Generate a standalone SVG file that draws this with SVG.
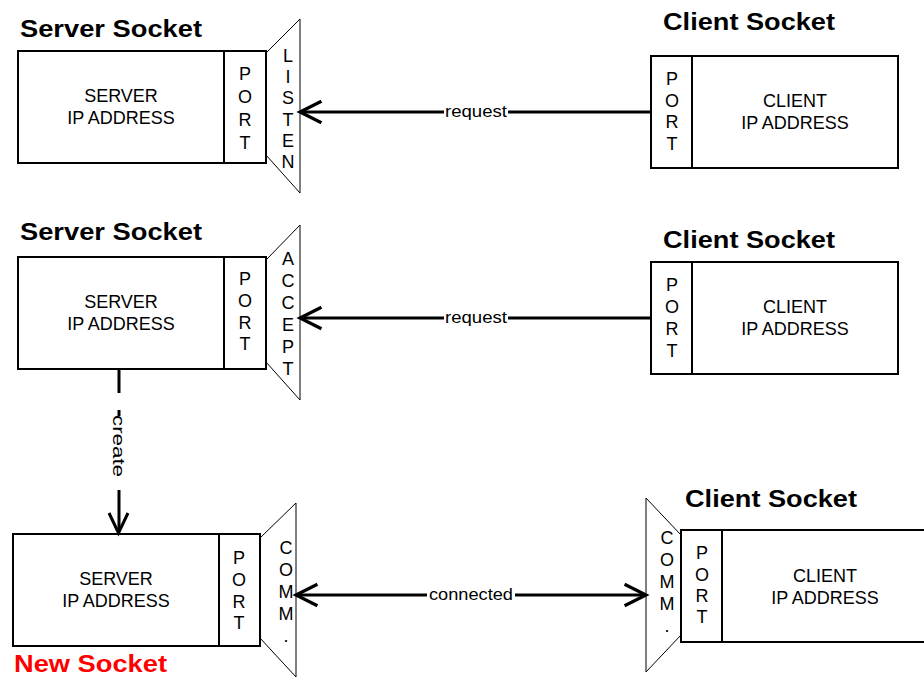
<svg xmlns="http://www.w3.org/2000/svg" width="924" height="677" viewBox="0 0 924 677">
  <style>
    text { font-family: "Liberation Sans", Arial, sans-serif; fill: #000; }
    .title { font-size: 24px; font-weight: bold; }
    .red { fill: #ff0000; }
    .body { font-size: 18px; text-anchor: middle; }
    .lbl { font-size: 17px; text-anchor: middle; }
    .box { fill: #fff; stroke: #000; stroke-width: 2; }
    .cone { fill: #fff; stroke: #000; stroke-width: 1; }
    .wire { fill: none; stroke: #000; stroke-width: 3; }
    .head { fill: none; stroke: #000; stroke-width: 3; stroke-linejoin: miter; }
  </style>
  <defs>
    <marker id="arrow" markerUnits="userSpaceOnUse" markerWidth="30" markerHeight="30" refX="0" refY="0" viewBox="-24 -14 28 28" orient="auto-start-reverse" overflow="visible">
      <path d="M-20,-10 L0,0 L-20,10" class="head"/>
    </marker>
  </defs>

  <rect width="924" height="677" fill="#fff"/>

  <!-- Row 1: listening server socket -->
  <g id="server-listen">
    <text class="title" x="20" y="37" textLength="182" lengthAdjust="spacingAndGlyphs">Server Socket</text>
    <polygon class="cone" points="266,53 300,19 300,193 266,155"/>
    <rect class="box" x="18" y="51" width="206" height="112"/>
    <rect class="box" x="224" y="51" width="42" height="112"/>
    <text class="body" x="121" y="102">SERVER</text>
    <text class="body" x="121" y="124">IP ADDRESS</text>
    <text class="body" x="245" y="80">P</text>
    <text class="body" x="245" y="103">O</text>
    <text class="body" x="245" y="126">R</text>
    <text class="body" x="245" y="149">T</text>
    <text class="body" x="288" y="62">L</text>
    <text class="body" x="288" y="83">I</text>
    <text class="body" x="288" y="104">S</text>
    <text class="body" x="288" y="126">T</text>
    <text class="body" x="288" y="147">E</text>
    <text class="body" x="288" y="168">N</text>
  </g>

  <g id="client-1">
    <text class="title" x="663" y="30" textLength="172" lengthAdjust="spacingAndGlyphs">Client Socket</text>
    <rect class="box" x="651" y="56" width="247" height="112"/>
    <line x1="692" y1="56" x2="692" y2="168" stroke="#000" stroke-width="2"/>
    <text class="body" x="795" y="107">CLIENT</text>
    <text class="body" x="795" y="129">IP ADDRESS</text>
    <text class="body" x="672" y="85">P</text>
    <text class="body" x="672" y="107">O</text>
    <text class="body" x="672" y="128">R</text>
    <text class="body" x="672" y="150">T</text>
  </g>

  <!-- Row 2: accepting server socket -->
  <g id="server-accept">
    <text class="title" x="20" y="240" textLength="182" lengthAdjust="spacingAndGlyphs">Server Socket</text>
    <polygon class="cone" points="266,260 300,225 300,400 266,362"/>
    <rect class="box" x="18" y="257" width="206" height="112"/>
    <rect class="box" x="224" y="257" width="42" height="112"/>
    <text class="body" x="121" y="308">SERVER</text>
    <text class="body" x="121" y="330">IP ADDRESS</text>
    <text class="body" x="245" y="285">P</text>
    <text class="body" x="245" y="307">O</text>
    <text class="body" x="245" y="329">R</text>
    <text class="body" x="245" y="350">T</text>
    <text class="body" x="288" y="265">A</text>
    <text class="body" x="288" y="287">C</text>
    <text class="body" x="288" y="309">C</text>
    <text class="body" x="288" y="331">E</text>
    <text class="body" x="288" y="353">P</text>
    <text class="body" x="288" y="375">T</text>
  </g>

  <g id="client-2">
    <text class="title" x="663" y="248" textLength="172" lengthAdjust="spacingAndGlyphs">Client Socket</text>
    <rect class="box" x="651" y="262" width="247" height="112"/>
    <line x1="692" y1="262" x2="692" y2="374" stroke="#000" stroke-width="2"/>
    <text class="body" x="795" y="313">CLIENT</text>
    <text class="body" x="795" y="335">IP ADDRESS</text>
    <text class="body" x="672" y="291">P</text>
    <text class="body" x="672" y="313">O</text>
    <text class="body" x="672" y="335">R</text>
    <text class="body" x="672" y="357">T</text>
  </g>

  <!-- Row 3: new socket connected to the client -->
  <g id="server-new">
    <polygon class="cone" points="260,538 296,503 296,677 260,638"/>
    <rect class="box" x="13" y="534" width="206" height="112"/>
    <rect class="box" x="219" y="534" width="41" height="112"/>
    <text class="body" x="116" y="585">SERVER</text>
    <text class="body" x="116" y="607">IP ADDRESS</text>
    <text class="body" x="239" y="564">P</text>
    <text class="body" x="239" y="586">O</text>
    <text class="body" x="239" y="608">R</text>
    <text class="body" x="239" y="629">T</text>
    <text class="body" x="286" y="554">C</text>
    <text class="body" x="286" y="576">O</text>
    <text class="body" x="286" y="598">M</text>
    <text class="body" x="286" y="620">M</text>
    <text class="body" x="286" y="642">.</text>
    <text class="title red" x="14" y="672" textLength="153" lengthAdjust="spacingAndGlyphs">New Socket</text>
  </g>

  <g id="client-3">
    <text class="title" x="685" y="507" textLength="172" lengthAdjust="spacingAndGlyphs">Client Socket</text>
    <polygon class="cone" points="681,535 646,498 646,672 681,635"/>
    <rect class="box" x="681" y="530" width="250" height="112"/>
    <line x1="722" y1="530" x2="722" y2="642" stroke="#000" stroke-width="2"/>
    <text class="body" x="825" y="582">CLIENT</text>
    <text class="body" x="825" y="604">IP ADDRESS</text>
    <text class="body" x="702" y="559">P</text>
    <text class="body" x="702" y="581">O</text>
    <text class="body" x="702" y="602">R</text>
    <text class="body" x="702" y="623">T</text>
    <text class="body" x="667" y="544">C</text>
    <text class="body" x="667" y="566">O</text>
    <text class="body" x="667" y="588">M</text>
    <text class="body" x="667" y="610">M</text>
    <text class="body" x="667" y="632">.</text>
  </g>

  <!-- Connectors -->
  <g id="connectors">
    <line class="wire" x1="651" y1="112" x2="300" y2="112" marker-end="url(#arrow)"/>
    <rect x="444" y="101" width="64" height="20" fill="#fff"/>
    <text class="lbl" x="476" y="117" textLength="62" lengthAdjust="spacingAndGlyphs">request</text>

    <line class="wire" x1="651" y1="318" x2="300" y2="318" marker-end="url(#arrow)"/>
    <rect x="444" y="307" width="64" height="20" fill="#fff"/>
    <text class="lbl" x="476" y="323" textLength="62" lengthAdjust="spacingAndGlyphs">request</text>

    <path class="wire" d="M119,370 V393 M119,410 V416 M119,490 V532"/>
    <path class="head" d="M109,513 L118.5,533 L128,513"/>
    <text class="lbl" transform="translate(119,446) rotate(90)" y="6" x="0" textLength="62" lengthAdjust="spacingAndGlyphs">create</text>

    <line class="wire" x1="296" y1="595" x2="646" y2="595" marker-start="url(#arrow)" marker-end="url(#arrow)"/>
    <rect x="427" y="584" width="88" height="20" fill="#fff"/>
    <text class="lbl" x="471" y="600" textLength="84" lengthAdjust="spacingAndGlyphs">connected</text>
  </g>
</svg>
